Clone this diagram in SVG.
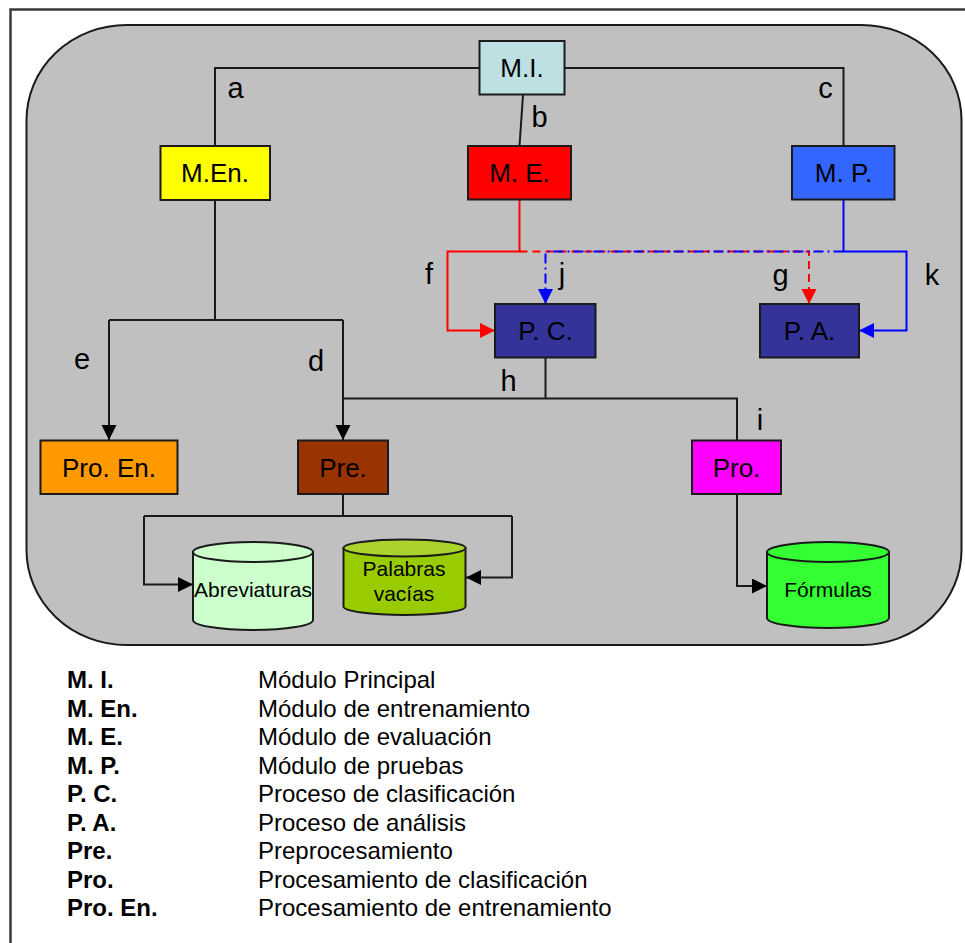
<svg xmlns="http://www.w3.org/2000/svg" width="965" height="943" viewBox="0 0 965 943">
  <style>
    text { font-family: "Liberation Sans", Arial, sans-serif; fill: #000; }
    .box { stroke: #1a1a1a; stroke-width: 2; }
    .nodetext { font-size: 26px; text-anchor: middle; }
    .cyltext { font-size: 21px; text-anchor: middle; }
    .lbl { font-size: 29px; text-anchor: middle; }
    .wire { fill: none; stroke: #1a1a1a; stroke-width: 2; }
    .red { fill: none; stroke: #ff0000; stroke-width: 2; }
    .blue { fill: none; stroke: #0000ff; stroke-width: 2; }
    .redDash { stroke-dasharray: 8 5; }
    .blueDashDot { stroke-dasharray: 10 4 2 4; }
    .cyl { stroke: #1a1a1a; stroke-width: 2; }
    .abbr { font-size: 24px; font-weight: bold; }
    .desc { font-size: 24px; }
  </style>
  <defs>
    <marker id="arrBlack" markerUnits="userSpaceOnUse" markerWidth="16" markerHeight="16" refX="15" refY="7.5" orient="auto">
      <path d="M0,0 L15,7.5 L0,15 Z" fill="#000"/>
    </marker>
    <marker id="arrRed" markerUnits="userSpaceOnUse" markerWidth="16" markerHeight="16" refX="15" refY="7.5" orient="auto">
      <path d="M0,0 L15,7.5 L0,15 Z" fill="#ff0000"/>
    </marker>
    <marker id="arrBlue" markerUnits="userSpaceOnUse" markerWidth="16" markerHeight="16" refX="15" refY="7.5" orient="auto">
      <path d="M0,0 L15,7.5 L0,15 Z" fill="#0000ff"/>
    </marker>
  </defs>

  <!-- page background and outer frame -->
  <rect x="0" y="0" width="965" height="943" fill="#ffffff"/>
  <rect x="10.5" y="9.5" width="980" height="960" fill="#ffffff" stroke="#3a3a3a" stroke-width="2.5"/>

  <!-- system area -->
  <rect x="26.5" y="25" width="935" height="620" rx="100" ry="95" fill="#c0c0c0" stroke="#1a1a1a" stroke-width="2"/>

  <!-- connectors -->
  <g id="connectors">
    <!-- M.I. to modules -->
    <polyline class="wire" points="480,68 215,68 215,146"/>
    <polyline class="wire" points="565,68 843.5,68 843.5,146"/>
    <line class="wire" x1="523" y1="95" x2="519.5" y2="146"/>
    <!-- M.En. branches -->
    <polyline class="wire" points="215,200 215,320"/>
    <polyline class="wire" points="109,320 343,320"/>
    <line class="wire" x1="109" y1="320" x2="109" y2="440" marker-end="url(#arrBlack)"/>
    <line class="wire" x1="343" y1="320" x2="343" y2="440" marker-end="url(#arrBlack)"/>
    <!-- P.C. to Pre./Pro. -->
    <polyline class="wire" points="545.5,358 545.5,398.5"/>
    <polyline class="wire" points="343,398.5 737,398.5 737,440"/>
    <!-- Pre. to stores -->
    <polyline class="wire" points="343,494 343,516"/>
    <polyline class="wire" points="144,516 512,516"/>
    <polyline class="wire" points="144,516 144,584.5 193,584.5" marker-end="url(#arrBlack)"/>
    <polyline class="wire" points="512,516 512,577.5 466,577.5" marker-end="url(#arrBlack)"/>
    <!-- Pro. to Fórmulas -->
    <polyline class="wire" points="737,494 737,586 767,586" marker-end="url(#arrBlack)"/>

    <!-- M.E. links (red) -->
    <polyline class="red" points="519.5,200 519.5,251.5 447.5,251.5 447.5,330.5 495,330.5" marker-end="url(#arrRed)"/>
    <polyline class="red redDash" points="519.5,251.5 809,251.5 809,304" marker-end="url(#arrRed)"/>
    <!-- M.P. links (blue) -->
    <polyline class="blue" points="843.5,200 843.5,251.5 906.5,251.5 906.5,330.5 859,330.5" marker-end="url(#arrBlue)"/>
    <polyline class="blue blueDashDot" points="843.5,251.5 545.5,251.5 545.5,304" marker-end="url(#arrBlue)"/>

    <!-- connector labels -->
    <text class="lbl" x="235.5" y="97.5">a</text>
    <text class="lbl" x="539.5" y="127">b</text>
    <text class="lbl" x="825.5" y="97.5">c</text>
    <text class="lbl" x="316" y="371">d</text>
    <text class="lbl" x="82" y="369">e</text>
    <text class="lbl" x="429" y="284">f</text>
    <text class="lbl" x="780.5" y="285">g</text>
    <text class="lbl" x="508.5" y="390.5">h</text>
    <text class="lbl" x="760" y="430">i</text>
    <text class="lbl" x="562" y="284">j</text>
    <text class="lbl" x="932" y="285">k</text>
  </g>

  <!-- nodes -->
  <g id="mi">
    <rect class="box" x="479.5" y="41" width="85" height="53.5" fill="#bde0e3"/>
    <text class="nodetext" x="522" y="77">M.I.</text>
  </g>
  <g id="men">
    <rect class="box" x="160.5" y="146" width="109.5" height="54" fill="#ffff00"/>
    <text class="nodetext" x="215" y="182">M.En.</text>
  </g>
  <g id="me">
    <rect class="box" x="468" y="146" width="103" height="53.5" fill="#ff0000"/>
    <text class="nodetext" x="519.5" y="182">M. E.</text>
  </g>
  <g id="mp">
    <rect class="box" x="792" y="146" width="102.5" height="53.5" fill="#3366ff"/>
    <text class="nodetext" x="843.5" y="182">M. P.</text>
  </g>
  <g id="pc">
    <rect class="box" x="495" y="304" width="100.5" height="53.5" fill="#333399"/>
    <text class="nodetext" x="545.5" y="340">P. C.</text>
  </g>
  <g id="pa">
    <rect class="box" x="760" y="304" width="99" height="53.5" fill="#333399"/>
    <text class="nodetext" x="809.5" y="340">P. A.</text>
  </g>
  <g id="proen">
    <rect class="box" x="40.5" y="440.5" width="137" height="53.5" fill="#ff9900"/>
    <text class="nodetext" x="109" y="476.5">Pro. En.</text>
  </g>
  <g id="pre">
    <rect class="box" x="298" y="440.5" width="90" height="53.5" fill="#993300"/>
    <text class="nodetext" x="343" y="476.5">Pre.</text>
  </g>
  <g id="pro">
    <rect class="box" x="692" y="440.5" width="89" height="53.5" fill="#ff00ff"/>
    <text class="nodetext" x="736.5" y="476.5">Pro.</text>
  </g>

  <!-- data stores -->
  <g id="abreviaturas">
    <path class="cyl" d="M193,552 L193,620 A60,10 0 0 0 313,620 L313,552 Z" fill="#ccffcc"/>
    <ellipse class="cyl" cx="253" cy="552" rx="60" ry="10" fill="#ccffcc"/>
    <text class="cyltext" x="253" y="597">Abreviaturas</text>
  </g>
  <g id="palabras">
    <path class="cyl" d="M343.5,548 L343.5,606.5 A61,8.5 0 0 0 465.5,606.5 L465.5,548 Z" fill="#99cc00"/>
    <ellipse class="cyl" cx="404.5" cy="548" rx="61" ry="8.5" fill="#aad42c"/>
    <text class="cyltext" x="404" y="576">Palabras</text>
    <text class="cyltext" x="404" y="601">vacías</text>
  </g>
  <g id="formulas">
    <path class="cyl" d="M767,552 L767,618 A61,10 0 0 0 889,618 L889,552 Z" fill="#33ff33"/>
    <ellipse class="cyl" cx="828" cy="552" rx="61" ry="10" fill="#33ff33"/>
    <text class="cyltext" x="828" y="597">Fórmulas</text>
  </g>

  <!-- legend -->
  <g id="legend">
    <text class="abbr" x="67" y="688">M. I.</text>
    <text class="desc" x="258" y="688">Módulo Principal</text>
    <text class="abbr" x="67" y="716.5">M. En.</text>
    <text class="desc" x="258" y="716.5">Módulo de entrenamiento</text>
    <text class="abbr" x="67" y="745">M. E.</text>
    <text class="desc" x="258" y="745">Módulo de evaluación</text>
    <text class="abbr" x="67" y="773.5">M. P.</text>
    <text class="desc" x="258" y="773.5">Módulo de pruebas</text>
    <text class="abbr" x="67" y="802">P. C.</text>
    <text class="desc" x="258" y="802">Proceso de clasificación</text>
    <text class="abbr" x="67" y="830.5">P. A.</text>
    <text class="desc" x="258" y="830.5">Proceso de análisis</text>
    <text class="abbr" x="67" y="859">Pre.</text>
    <text class="desc" x="258" y="859">Preprocesamiento</text>
    <text class="abbr" x="67" y="887.5">Pro.</text>
    <text class="desc" x="258" y="887.5">Procesamiento de clasificación</text>
    <text class="abbr" x="67" y="916">Pro. En.</text>
    <text class="desc" x="258" y="916">Procesamiento de entrenamiento</text>
  </g>
</svg>
